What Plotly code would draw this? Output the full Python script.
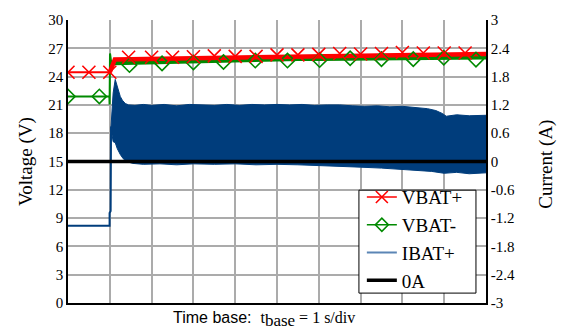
import plotly.graph_objects as go

# ---------------- data ----------------
# VBAT+ (V)
vbp_pre_t = [0, 0.5, 1.0]
vbp_pre = [24.46, 24.46, 24.46]
vbp_post_t = [1.0, 1.04, 1.08, 1.12, 1.5, 2, 2.5, 3, 3.5, 4, 4.5, 5, 5.5, 6, 6.5, 7, 7.5, 8, 8.5, 9, 9.5, 10]
vbp_post = [24.46, 24.9, 25.6, 25.82, 25.85, 25.88, 25.92, 25.97, 26.0, 26.05, 26.08, 26.12, 26.15, 26.2, 26.25,
            26.28, 26.3, 26.33, 26.35, 26.37, 26.38, 26.4]
vbp_mk_t = [0, 0.5, 1.0, 1.45, 2.0, 2.5, 3.0, 3.5, 4.0, 4.5, 5.0, 5.5, 6.0, 6.5, 7.0, 7.5, 8.0, 8.5, 9.0, 9.5]
vbp_mk = [24.46, 24.46, 24.46, 26.05, 26.05, 26.05, 26.1, 26.2, 26.15, 26.15, 26.3, 26.3, 26.35, 26.45, 26.4,
          26.45, 26.55, 26.5, 26.5, 26.5]

# VBAT- (V)
vbm_pre_t = [0, 0.99, 0.995, 1.005, 1.04, 1.1]
vbm_pre = [21.9, 21.9, 21.05, 26.45, 25.3, 25.45]
vbm_post_t = [1.1, 1.5, 2, 2.5, 3, 3.5, 4, 4.5, 5, 5.5, 6, 6.5, 7, 7.5, 8, 8.5, 9, 9.5, 10]
vbm_post = [25.45, 25.5, 25.55, 25.6, 25.65, 25.7, 25.75, 25.8, 25.85, 25.88, 25.9, 25.93, 25.95, 25.97, 26.0,
            26.02, 26.03, 26.05, 26.06]
vbm_mk_t = [0, 0.75, 1.47, 2.25, 3.0, 3.72, 4.48, 5.25, 6.02, 6.75, 7.5, 8.26, 8.99, 9.76]
vbm_mk = [21.9, 21.9, 25.22, 25.4, 25.5, 25.55, 25.7, 25.7, 25.75, 25.95, 25.85, 25.85, 26.0, 25.8]

# IBAT+ (A): pre-step trace and envelope of the switching ripple
ib_pre_t = [0, 0.995, 0.995, 1.02, 1.03]
ib_pre = [-1.36, -1.36, -1.09, -1.05, 0.75]
ib_up_t = [1.03, 1.08, 1.13, 1.16, 1.2, 1.25, 1.3, 1.37, 1.45, 1.6, 1.8, 2.0, 2.3, 2.6, 2.9, 3.2, 3.5, 3.8,
           4.1, 4.4, 4.7, 5.0, 5.3, 5.6, 5.9, 6.2, 6.5, 6.8, 7.1, 7.4, 7.7, 8.0, 8.3, 8.6, 8.8, 8.95, 9.05,
           9.3, 9.6, 10.0]
ib_up = [0.75, 1.45, 1.74, 1.64, 1.5, 1.38, 1.3, 1.23, 1.2, 1.19, 1.21, 1.19, 1.21, 1.18, 1.21, 1.2, 1.19,
         1.21, 1.19, 1.21, 1.2, 1.21, 1.2, 1.21, 1.19, 1.2, 1.2, 1.18, 1.17, 1.18, 1.16, 1.17, 1.14, 1.12,
         1.08, 1.02, 0.96, 0.99, 0.97, 0.98]
ib_lo_t = [1.03, 1.08, 1.13, 1.18, 1.25, 1.32, 1.4, 1.55, 1.8, 2.2, 2.6, 3.0, 3.5, 4.0, 4.5, 5.0, 5.5, 6.0,
           6.5, 7.0, 7.5, 8.0, 8.4, 8.7, 9.0, 9.3, 9.6, 10.0]
ib_lo = [0.7, 0.42, 0.4, 0.27, 0.15, 0.06, 0.0, -0.04, -0.06, -0.05, -0.07, -0.05, -0.06, -0.05, -0.07, -0.06,
         -0.07, -0.08, -0.1, -0.12, -0.14, -0.16, -0.19, -0.21, -0.25, -0.23, -0.26, -0.24]

# 0A reference
zero_t = [0, 10]
zero_i = [0, 0]

y_ticks = [0, 3, 6, 9, 12, 15, 18, 21, 24, 27, 30]
y2_ticks = [-3, -2.4, -1.8, -1.2, -0.6, 0, 0.6, 1.2, 1.8, 2.4, 3]
y2_labels = ["-3", "-2.4", "-1.8", "-1.2", "-0.6", "0", "0.6", "1.2", "1.8", "2.4", "3"]

# ---------------- style ----------------
RED = "#ff0000"
GREEN = "#008a00"
BLUE = "#003d7c"
GRID = "#ababab"
SERIF = "Liberation Serif, Times New Roman, serif"
SANS = "Liberation Sans, Arial, sans-serif"

fig = go.Figure()

# IBAT+ band
band_x = ib_up_t + ib_lo_t[::-1]
band_y = ib_up + ib_lo[::-1]
fig.add_trace(go.Scatter(x=band_x, y=band_y, yaxis="y2", mode="lines", fill="toself",
                         fillcolor=BLUE, line=dict(color=BLUE, width=1), showlegend=False, hoverinfo="skip"))
fig.add_trace(go.Scatter(x=ib_pre_t, y=ib_pre, yaxis="y2", mode="lines",
                         line=dict(color=BLUE, width=2), showlegend=False))
# 0A
fig.add_trace(go.Scatter(x=zero_t, y=zero_i, yaxis="y2", mode="lines",
                         line=dict(color="black", width=3.5), showlegend=False))
# VBAT-
fig.add_trace(go.Scatter(x=vbm_pre_t, y=vbm_pre, mode="lines", line=dict(color=GREEN, width=2),
                         showlegend=False))
fig.add_trace(go.Scatter(x=vbm_post_t, y=vbm_post, mode="lines", line=dict(color=GREEN, width=4.5),
                         showlegend=False))
# VBAT+
fig.add_trace(go.Scatter(x=vbp_pre_t, y=vbp_pre, mode="lines", line=dict(color=RED, width=2),
                         showlegend=False))
fig.add_trace(go.Scatter(x=vbp_post_t, y=vbp_post, mode="lines", line=dict(color=RED, width=4.5),
                         showlegend=False))
# markers
fig.add_trace(go.Scatter(x=vbm_mk_t, y=vbm_mk, mode="markers",
                         marker=dict(symbol="diamond-open", size=11, color=GREEN, line=dict(color=GREEN, width=1.6)),
                         showlegend=False))
fig.add_trace(go.Scatter(x=vbp_mk_t, y=vbp_mk, mode="markers",
                         marker=dict(symbol="x-thin", size=13, color=RED, line=dict(color=RED, width=1.6)),
                         showlegend=False))

# legend entries
fig.add_trace(go.Scatter(x=[None], y=[None], mode="lines+markers", name="VBAT+", legendrank=1,
                         line=dict(color=RED, width=1.6),
                         marker=dict(symbol="x-thin", size=12, color=RED, line=dict(color=RED, width=1.6))))
fig.add_trace(go.Scatter(x=[None], y=[None], mode="lines+markers", name="VBAT-", legendrank=2,
                         line=dict(color=GREEN, width=1.6),
                         marker=dict(symbol="diamond-open", size=10, color=GREEN, line=dict(color=GREEN, width=1.6))))
fig.add_trace(go.Scatter(x=[None], y=[None], mode="lines", name="IBAT+", legendrank=3,
                         line=dict(color="#5b85b5", width=2)))
fig.add_trace(go.Scatter(x=[None], y=[None], mode="lines", name="0A", legendrank=4,
                         line=dict(color="black", width=3.5)))

fig.update_layout(
    width=563, height=333,
    margin=dict(l=68, r=77, t=17, b=30),
    paper_bgcolor="white", plot_bgcolor="white",
    xaxis=dict(range=[0, 10], dtick=1, tick0=0, showticklabels=False, showgrid=True, gridcolor=GRID,
               gridwidth=1.5, zeroline=False, showline=True, linecolor="black", linewidth=1.5, ticks=""),
    yaxis=dict(range=[0, 30], tickvals=y_ticks, showgrid=True, gridcolor=GRID, gridwidth=1.5,
               zeroline=False, showline=True, linecolor="black", linewidth=1.5, ticks="",
               tickfont=dict(family=SERIF, size=15, color="black")),
    yaxis2=dict(range=[-3, 3], overlaying="y", side="right", tickvals=y2_ticks, ticktext=y2_labels,
                showgrid=False, zeroline=False, showline=True, linecolor="black", linewidth=1.5, ticks="",
                tickfont=dict(family=SERIF, size=15, color="black")),
    legend=dict(x=0.703, y=0.441, xanchor="left", yanchor="top", bgcolor="rgba(0,0,0,0)",
                borderwidth=0, font=dict(family=SERIF, size=19, color="black"), tracegroupgap=0),
    showlegend=True,
)

# legend frame
fig.add_shape(type="rect", xref="paper", yref="paper", x0=0.696, x1=0.976, y0=0.035, y1=0.3986,
              fillcolor="white", line=dict(color="black", width=1), layer="above")

fig.add_annotation(x=-0.1016, y=0.5, xref="paper", yref="paper", text="Voltage (V)", textangle=-90,
                   showarrow=False, xanchor="center", yanchor="middle",
                   font=dict(family=SERIF, size=19, color="black"))
fig.add_annotation(x=1.1445, y=0.49, xref="paper", yref="paper", text="Current (A)", textangle=-90,
                   showarrow=False, xanchor="center", yanchor="middle",
                   font=dict(family=SERIF, size=19, color="black"))
fig.add_annotation(x=0.2465, y=-0.06, xref="paper", yref="paper",
                   text=('Time base:&nbsp;&nbsp;<span style="font-family:Liberation Serif;font-size:16px">t'
                         '<sub><span style="font-size:17px">base</span></sub>&nbsp;=&nbsp;1&nbsp;s/div</span>'),
                   showarrow=False, xanchor="left", yanchor="middle",
                   font=dict(family=SANS, size=16, color="black"))

fig.write_html("out.html", config={"displayModeBar": False},
               post_script="document.body.style.margin='0';document.body.style.overflow='hidden';")
